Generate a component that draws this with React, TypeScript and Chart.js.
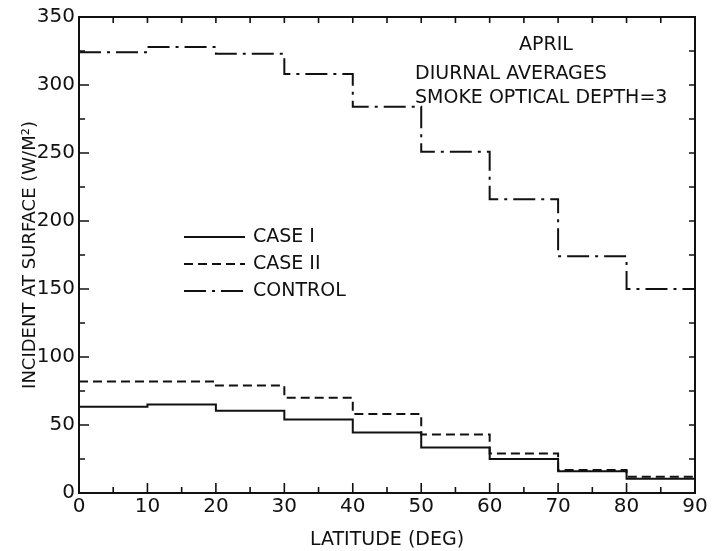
import React, { useEffect, useRef } from "react";
import { Chart, registerables } from "chart.js";

Chart.register(...registerables);

// Latitude bands (deg): each value holds from its start to the next band
const latitudeStarts = [0, 10, 20, 30, 40, 50, 60, 70, 80];
const latitudeEnd = 90;

const caseI = [63.5, 65, 60.5, 54, 44.5, 33.5, 25, 16, 10.5];
const caseII = [82, 82, 79, 70, 58, 43, 29, 17, 12];
const control = [324, 328, 323, 308, 284, 251, 216, 174, 150];

const xTicks = [0, 10, 20, 30, 40, 50, 60, 70, 80, 90];
const yTicks = [0, 50, 100, 150, 200, 250, 300, 350];

const annotationLines = ["APRIL", "DIURNAL AVERAGES", "SMOKE OPTICAL DEPTH=3"];

const FONT = "'DejaVu Sans', sans-serif";
const INK = "#111";

const seriesDefs = [
  { label: "CASE I", values: caseI, dash: [] as number[] },
  { label: "CASE II", values: caseII, dash: [9, 5] },
  { label: "CONTROL", values: control, dash: [22, 6, 3, 6] },
];

function toSteps(values: number[]) {
  const pts = latitudeStarts.map((x, i) => ({ x, y: values[i] }));
  pts.push({ x: latitudeEnd, y: values[values.length - 1] });
  return pts;
}

const framePlugin = {
  id: "frameTicks",
  afterDraw(chart: any) {
    const { ctx, chartArea } = chart;
    const { left, right, top, bottom } = chartArea;
    const xs = chart.scales.x;
    const ys = chart.scales.y;
    ctx.save();
    ctx.strokeStyle = INK;
    ctx.lineWidth = 2;
    ctx.setLineDash([]);
    ctx.strokeRect(left, top, right - left, bottom - top);
    ctx.lineWidth = 1.6;
    ctx.beginPath();
    for (let v = 0; v <= 90; v += 5) {
      const px = xs.getPixelForValue(v);
      const len = v % 10 === 0 ? 10 : 6;
      ctx.moveTo(px, bottom);
      ctx.lineTo(px, bottom - len);
      ctx.moveTo(px, top);
      ctx.lineTo(px, top + 6);
    }
    for (let v = 0; v <= 350; v += 25) {
      const py = ys.getPixelForValue(v);
      const len = v % 50 === 0 ? 10 : 6;
      ctx.moveTo(left, py);
      ctx.lineTo(left + len, py);
      ctx.moveTo(right, py);
      ctx.lineTo(right - 6, py);
    }
    ctx.stroke();

    // annotation
    ctx.fillStyle = INK;
    ctx.font = `19px ${FONT}`;
    ctx.textBaseline = "middle";
    ctx.textAlign = "center";
    ctx.fillText(annotationLines[0], left + 467, top + 28);
    ctx.textAlign = "left";
    ctx.fillText(annotationLines[1], left + 336, top + 57);
    ctx.fillText(annotationLines[2], left + 336, top + 81);

    // legend
    const lx0 = left + 105;
    const lx1 = left + 166;
    const ly = top + 220;
    seriesDefs.forEach((s, i) => {
      const y = ly + i * 27;
      ctx.beginPath();
      ctx.lineWidth = 2;
      ctx.setLineDash(s.dash);
      ctx.moveTo(lx0, y);
      ctx.lineTo(lx1, y);
      ctx.stroke();
      ctx.setLineDash([]);
      ctx.fillText(s.label, lx1 + 8, y);
    });
    ctx.restore();
  },
};

export default function App() {
  const ref = useRef<HTMLCanvasElement>(null);
  useEffect(() => {
    if (!ref.current) return;
    const chart = new Chart(ref.current, {
      type: "line",
      data: {
        datasets: seriesDefs.map((s) => ({
          label: s.label,
          data: toSteps(s.values),
          borderColor: INK,
          borderWidth: 2,
          borderDash: s.dash,
          pointRadius: 0,
          fill: false,
          stepped: "before" as const,
        })),
      },
      options: {
        responsive: false,
        animation: false,
        layout: { padding: { left: 16, top: 17, right: 33, bottom: 0 } },
        plugins: { legend: { display: false }, tooltip: { enabled: false } },
        scales: {
          x: {
            type: "linear",
            min: 0,
            max: 90,
            afterBuildTicks: (scale: any) => {
              scale.ticks = xTicks.map((v) => ({ value: v }));
            },
            afterFit: (scale: any) => {
              scale.height = 58;
            },
            grid: { display: false, drawTicks: false },
            border: { display: false },
            ticks: {
              color: INK,
              font: { family: FONT, size: 20 },
              padding: 2,
              maxRotation: 0,
              autoSkip: false,
            },
            title: {
              display: true,
              text: "LATITUDE (DEG)",
              color: INK,
              font: { family: FONT, size: 19 },
              padding: { top: 0, bottom: 0 },
            },
          },
          y: {
            type: "linear",
            min: 0,
            max: 350,
            afterBuildTicks: (scale: any) => {
              scale.ticks = yTicks.map((v) => ({ value: v }));
            },
            afterFit: (scale: any) => {
              scale.width = 63;
            },
            grid: { display: false, drawTicks: false },
            border: { display: false },
            ticks: {
              color: INK,
              font: { family: FONT, size: 20 },
              padding: 4,
              autoSkip: false,
            },
            title: {
              display: true,
              text: "INCIDENT AT SURFACE (W/M²)",
              color: INK,
              font: { family: FONT, size: 18 },
              padding: { top: 4, bottom: 0 },
            },
          },
        },
      },
      plugins: [framePlugin],
    });
    return () => chart.destroy();
  }, []);
  return (
    <div style={{ position: "fixed", left: 0, top: 0, width: 728, height: 551, background: "#fff" }}>
      <canvas ref={ref} width={728} height={551} />
    </div>
  );
}
